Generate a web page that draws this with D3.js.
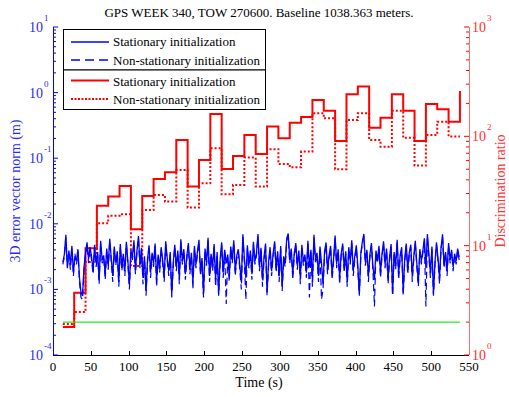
<!DOCTYPE html>
<html><head><meta charset="utf-8">
<script src="https://cdn.jsdelivr.net/npm/d3@7/dist/d3.min.js"></script>
<style>body{margin:0;background:#fff}svg{display:block}text{font-family:"Liberation Serif","Times New Roman",serif}</style>
</head><body><svg id="c" width="509" height="397"></svg>
<script>
const titleText = "GPS WEEK 340, TOW 270600. Baseline 1038.363 meters.";
const xTicks = [0,50,100,150,200,250,300,350,400,450,500,550];
const leftTickExp = [-4,-3,-2,-1,0,1];
const rightTickExp = [0,1,2,3];
const legendLabels = ["Stationary initialization","Non-stationary initialization","Stationary initialization","Non-stationary initialization"];
// discrimination ratio steps (start time of each segment)
const stepTimes = [13,28,43,58,73,88,103,118,133,148,163,178,193,208,223,238,253,268,283,298,313,328,343,358,373,388,403,418,433,448,463,478,493,508,523,538];
const ratioStationary = [1.80,3.71,9.46,23.2,28.1,35.2,14.1,28.5,40.7,46.9,92.7,34.7,60.8,160,50.3,66.2,103,69,123,96,133,150,215,171,90.8,243,285,120,148,243,171,90.8,198,177,136,260];
const ratioNonStationary = [1.92,2.47,7.1,16.0,18.8,19.4,6.5,21.2,29.1,25.3,49.3,22.3,37.2,77.8,29.5,35.9,63.9,34.7,76.2,55.9,52.1,72.5,163,146,50.0,141,163,92.7,80.5,171,97,54,103,136,99.4,99.4];
const threshold = 2;
const thresholdRange = [13,538];
// 3D error norm, samples every 2 s from t=13, in units of 1e-3 m
const errT0 = 13, errDt = 2;
const errStationary = [
2.6,3.4,6.8,2.1,3.9,2.4,4.6,1.8,3.2,2.7,
4.1,1.5,0.9,0.8,2.2,3.6,5.2,2.9,4.4,3.1,
1.9,4.8,2.5,3.7,1.4,5.5,2.8,3.3,1.7,4.2,
2.3,5.9,3.0,1.6,4.5,2.6,3.8,1.3,4.9,2.2,
3.5,1.9,5.3,2.7,1.2,4.0,3.1,5.6,2.0,3.9,
6.5,2.4,4.3,1.5,3.2,0.95,2.9,4.7,1.8,3.6,
2.5,5.0,1.4,3.4,2.1,4.4,2.8,1.6,5.4,3.0,
1.9,3.7,0.85,2.6,4.8,2.2,3.9,1.5,5.8,2.7,
4.1,1.7,3.3,5.1,2.0,3.6,1.3,4.6,2.4,3.8,
5.7,1.9,3.0,0.85,4.2,2.6,6.1,1.6,3.5,2.2,
4.9,1.4,3.7,0.85,2.9,5.2,1.8,4.0,2.5,3.4,
1.6,4.5,2.8,5.6,1.9,3.3,4.1,2.3,1.3,6.9,
3.0,1.5,4.7,2.4,3.9,1.7,5.3,2.7,3.6,7.0,
2.2,4.3,1.4,3.1,5.0,0.9,2.6,4.4,1.9,3.5,
5.4,2.1,3.8,1.6,4.6,1.1,3.2,2.5,6.0,7.1,
2.8,4.2,1.7,3.6,5.1,2.3,3.9,1.5,4.8,2.6,
3.4,1.8,5.5,2.2,4.0,1.4,6.8,2.9,3.6,1.6,
4.5,2.5,1.2,3.7,5.2,2.0,3.3,4.6,1.7,3.0,
6.6,2.4,4.1,1.5,3.5,5.0,2.1,3.8,1.3,4.4,
2.7,5.6,1.9,3.2,4.7,2.3,0.85,3.6,5.3,7.0,
2.6,4.0,1.6,3.4,5.1,2.2,1.4,3.9,2.8,4.6,
1.8,3.5,5.4,2.4,4.2,1.5,3.1,4.9,0.85,3.7,
2.3,5.7,1.7,3.3,4.4,0.9,2.9,5.0,2.0,3.6,
4.8,1.6,3.2,5.5,2.5,1.3,4.1,2.7,3.9,6.0,
2.1,7.0,3.4,1.8,4.5,0.85,2.6,5.2,3.0,1.5,
4.3,6.9,2.4,3.7,1.9,5.1,2.8,4.0,2.2,3.5,
2.7,4.2,3.1];
const errNonStationary = [
2.4,3.1,6.2,2.3,3.5,2.0,4.2,1.6,3.5,2.4,
3.8,1.3,0.75,0.7,2.0,3.3,4.8,2.5,4.0,2.8,
1.7,4.4,2.2,3.4,1.2,5.0,2.5,3.0,1.4,3.8,
2.0,5.4,2.7,1.3,4.1,2.3,3.5,1.1,4.5,1.9,
3.2,1.6,4.9,2.4,1.0,3.7,2.8,5.1,1.7,3.6,
6.0,2.1,4.0,1.2,2.9,0.8,2.6,4.3,1.5,3.3,
2.2,4.6,1.1,3.1,1.8,4.0,2.5,1.3,5.0,2.7,
1.6,3.4,0.75,2.3,4.4,1.9,3.6,1.2,5.3,2.4,
3.8,1.4,3.0,4.7,1.7,3.3,1.0,4.2,2.1,3.5,
5.2,1.6,2.7,0.75,3.9,2.3,5.6,1.3,3.2,1.9,
4.5,1.1,3.4,0.8,2.6,4.8,1.5,3.7,0.6,3.1,
1.3,4.1,2.5,5.1,1.6,3.0,3.7,2.0,1.0,6.3,
2.7,0.7,4.3,2.1,3.6,1.4,4.9,2.4,3.3,6.4,
1.9,4.0,1.1,2.8,4.6,0.8,2.3,4.0,1.6,3.2,
5.0,1.8,3.5,1.3,4.2,0.95,2.9,2.2,5.5,6.5,
2.5,3.9,1.4,3.3,4.7,2.0,3.6,1.2,4.4,2.3,
3.1,1.5,5.0,0.75,3.7,1.1,6.2,2.6,3.3,1.3,
4.1,0.7,1.0,3.4,4.8,1.7,3.0,4.2,1.4,2.7,
6.0,2.1,3.8,1.2,3.2,4.6,1.8,3.5,1.1,4.0,
2.4,5.1,1.6,2.9,4.3,2.0,0.8,3.3,4.9,6.4,
2.3,3.7,1.3,3.1,4.7,1.9,0.55,3.6,2.5,4.2,
1.5,3.2,5.0,2.1,3.9,1.2,2.8,4.5,0.8,3.4,
2.0,5.2,1.4,3.0,4.0,0.8,2.6,4.6,1.7,3.3,
4.4,1.3,2.9,5.0,2.2,1.1,3.8,2.4,3.6,5.5,
0.55,6.4,3.1,1.5,4.1,0.8,2.3,4.8,2.7,1.2,
4.0,6.3,2.1,3.4,1.6,4.7,2.5,3.7,1.9,3.2,
2.4,3.9,2.8];

const svg = d3.select("#c");
const L=53, R=469, T=27, B=355;
const x = d3.scaleLinear().domain([0,550]).range([L,R]);
const yL = d3.scaleLog().domain([1e-4,10]).range([B,T]);
const yR = d3.scaleLog().domain([1,1000]).range([B,T]);
const BLUE="#0000ff", RED="#ff0000";

// title
svg.append("text").attr("x",259).attr("y",17).attr("text-anchor","middle").attr("font-size",13).text(titleText);

const plot = svg.append("g");
// red steps
const stepLine = d3.line().curve(d3.curveStepAfter).x(d=>x(d[0])).y(d=>yR(d[1]));
plot.append("path").datum(stepTimes.map((t,i)=>[t,ratioNonStationary[i]])).attr("d",stepLine)
  .attr("fill","none").attr("stroke",RED).attr("stroke-width",2).attr("stroke-dasharray","2,2");
plot.append("path").datum(stepTimes.map((t,i)=>[t,ratioStationary[i]])).attr("d",stepLine)
  .attr("fill","none").attr("stroke",RED).attr("stroke-width",2);
// threshold
plot.append("line").attr("x1",x(thresholdRange[0])).attr("x2",x(thresholdRange[1]))
  .attr("y1",yR(threshold)).attr("y2",yR(threshold)).attr("stroke","#22ee22").attr("stroke-width",1.2);
// blue error lines
const errLine = d3.line().x((d,i)=>x(errT0+i*errDt)).y(d=>yL(d*1e-3));
plot.append("path").datum(errNonStationary).attr("d",errLine).attr("fill","none")
  .attr("stroke",BLUE).attr("stroke-width",1.2).attr("stroke-dasharray","7,4");
plot.append("path").datum(errStationary).attr("d",errLine).attr("fill","none")
  .attr("stroke",BLUE).attr("stroke-width",1.3);

// bottom axis
const ax = svg.append("g");
ax.append("line").attr("x1",L).attr("x2",R).attr("y1",B+0.5).attr("y2",B+0.5).attr("stroke","#000");
xTicks.forEach(t=>{
  ax.append("line").attr("x1",Math.round(x(t))+0.5).attr("x2",Math.round(x(t))+0.5).attr("y1",B).attr("y2",B-4).attr("stroke","#000");
  ax.append("text").attr("x",x(t)).attr("y",371).attr("text-anchor","middle").attr("font-size",13).text(t);
});
svg.append("text").attr("x",259).attr("y",387).attr("text-anchor","middle").attr("font-size",14).text("Time (s)");

// left axis
const la = svg.append("g");
la.append("line").attr("x1",L+0.5).attr("x2",L+0.5).attr("y1",T).attr("y2",B).attr("stroke",BLUE);
leftTickExp.forEach(e=>{
  const yy = yL(Math.pow(10,e));
  la.append("line").attr("x1",L).attr("x2",L+5).attr("y1",yy).attr("y2",yy).attr("stroke",BLUE);
  la.append("text").attr("fill","#2a2aff").attr("font-size",14).attr("x",43).attr("y",yy+5).attr("text-anchor","end").text("10");
  la.append("text").attr("fill","#2a2aff").attr("font-size",9).attr("x",44).attr("y",yy-6).text(e);
  if(e<1) for(let m=2;m<10;m++){
    const ym = yL(m*Math.pow(10,e));
    la.append("line").attr("x1",L).attr("x2",L+3).attr("y1",ym).attr("y2",ym).attr("stroke",BLUE);
  }
});
svg.append("text").attr("transform","translate(20,191) rotate(-90)").attr("text-anchor","middle")
  .attr("font-size",14).attr("fill","#2a2aff").text("3D error vector norm (m)");

// right axis
const ra = svg.append("g");
ra.append("line").attr("x1",R+0.5).attr("x2",R+0.5).attr("y1",T).attr("y2",B).attr("stroke","#ff6a6a");
rightTickExp.forEach(e=>{
  const yy = yR(Math.pow(10,e));
  ra.append("line").attr("x1",R).attr("x2",R-5).attr("y1",yy).attr("y2",yy).attr("stroke",RED);
  ra.append("text").attr("fill","#ff3030").attr("font-size",14).attr("x",472).attr("y",yy+5).text("10");
  ra.append("text").attr("fill","#ff3030").attr("font-size",9).attr("x",487).attr("y",yy-6).text(e);
  if(e<3) for(let m=2;m<10;m++){
    const ym = yR(m*Math.pow(10,e));
    ra.append("line").attr("x1",R).attr("x2",R-3).attr("y1",ym).attr("y2",ym).attr("stroke",RED);
  }
});
svg.append("text").attr("transform","translate(505,191) rotate(-90)").attr("text-anchor","middle")
  .attr("font-size",14).attr("fill","#ff3030").text("Discrimination ratio");

// legend
const lg = svg.append("g");
lg.append("rect").attr("x",63.5).attr("y",29.5).attr("width",202).attr("height",40.5).attr("fill","#fff").attr("stroke","#000");
lg.append("rect").attr("x",63.5).attr("y",70).attr("width",202).attr("height",39.5).attr("fill","#fff").attr("stroke","#000");
const rows = [
  {y:42, c:BLUE, w:1.3, dash:null, ty:46},
  {y:60, c:BLUE, w:1.3, dash:"9,5", ty:64.5},
  {y:80.5, c:RED, w:2, dash:null, ty:85.5},
  {y:99, c:RED, w:2, dash:"2,1.5", ty:104}
];
rows.forEach((r,i)=>{
  const ln = lg.append("line").attr("x1",71).attr("x2",109).attr("y1",r.y).attr("y2",r.y).attr("stroke",r.c).attr("stroke-width",r.w);
  if(r.dash) ln.attr("stroke-dasharray",r.dash);
  lg.append("text").attr("x",113).attr("y",r.ty).attr("font-size",13).text(legendLabels[i]);
});
</script></body></html>
